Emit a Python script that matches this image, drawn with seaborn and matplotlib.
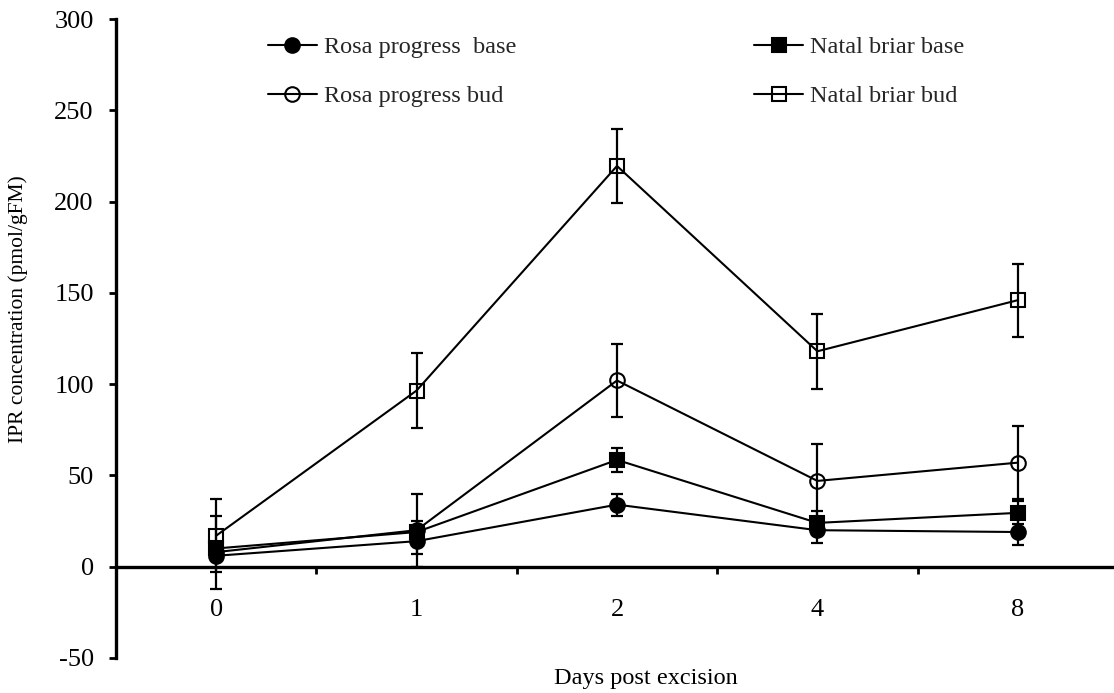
import numpy as np
import pandas as pd
import matplotlib
matplotlib.use("Agg")
import matplotlib.pyplot as plt
from matplotlib.ticker import FixedLocator, MultipleLocator
import seaborn as sns

# Days post excision (categorical)
days = ["0", "1", "2", "4", "8"]

# IPR concentration (pmol/gFM), mean and error per series
rosa_base = [6, 14, 34, 20, 19]
rosa_base_err = [2, 7, 6, 7, 7]
rosa_bud = [8, 20, 102, 47, 57]
rosa_bud_err = [20, 20, 20, 20, 20]
natal_base = [10, 19, 58.5, 24, 29.5]
natal_base_err = [2, 6, 6.5, 6.5, 6.3]
natal_bud = [17, 96.5, 219.5, 118, 146]
natal_bud_err = [20, 20.5, 20.5, 20.5, 20]

series_names = ["Rosa progress  base", "Rosa progress bud",
                "Natal briar base", "Natal briar bud"]
series_vals = [rosa_base, rosa_bud, natal_base, natal_bud]
series_errs = [rosa_base_err, rosa_bud_err, natal_base_err, natal_bud_err]
markers = ["o", "o", "s", "s"]
filled = [True, False, True, False]

sns.set_theme(style="white")
plt.rcParams["font.family"] = ["Liberation Serif", "DejaVu Serif"]
plt.rcParams["axes.unicode_minus"] = False

fig = plt.figure(figsize=(11.14, 6.93), dpi=100)
ax = fig.add_axes([116 / 1114, 35 / 693, 1 - 116 / 1114, (658 - 19) / 693])

pos = np.arange(len(days))
frames = []
for name, vals in zip(series_names, series_vals):
    frames.append(pd.DataFrame({"pos": pos, "value": vals, "series": name}))
df = pd.concat(frames, ignore_index=True)

for name, errs, mk, fl in zip(series_names, series_errs, markers, filled):
    sub = df[df["series"] == name]
    ax.errorbar(sub["pos"], sub["value"], yerr=errs, fmt="none",
                ecolor="black", elinewidth=1.6, capsize=4.5, capthick=1.6,
                zorder=2)
    sns.lineplot(data=sub, x="pos", y="value", ax=ax, color="black",
                 marker=mk, markersize=10.5 if mk == "o" else 10,
                 markerfacecolor="black" if fl else "none",
                 markeredgecolor="black", markeredgewidth=1.5,
                 linewidth=1.5, label=name, zorder=3)

ax.set_xlim(-0.5, 4.48)
ax.set_ylim(-50, 300)

# spines: left axis plus a horizontal axis running through zero
for side in ["top", "right"]:
    ax.spines[side].set_visible(False)
ax.spines["bottom"].set_position(("data", 0))
ax.spines["left"].set_linewidth(2.4)
ax.spines["bottom"].set_linewidth(2.4)
ax.spines["left"].set_color("black")
ax.spines["bottom"].set_color("black")

ax.yaxis.set_major_locator(MultipleLocator(50))
ax.tick_params(axis="y", which="major", direction="out", length=5,
               width=2, colors="black", labelsize=19, pad=11, left=True)

ax.xaxis.set_major_locator(FixedLocator(pos))
ax.set_xticks(pos)
ax.set_xticklabels(days)
ax.xaxis.set_minor_locator(FixedLocator(np.arange(-0.5, 4.6, 1.0)))
ax.tick_params(axis="x", which="major", length=0, labelsize=19, pad=23,
               colors="black", bottom=True)
ax.tick_params(axis="x", which="minor", direction="out", length=5,
               width=2, color="black", bottom=True)

ax.set_xlabel("Days post excision", fontsize=17.5, color="black")
ax.set_ylabel("IPR concentration (pmol/gFM)", fontsize=15.5, color="black")
ax.xaxis.set_label_coords(0.531, -0.0156)
ax.yaxis.set_label_coords(-0.088, 0.546)

ax.legend(loc="upper left", bbox_to_anchor=(268 / 1114, 1 - 36 / 693),
          bbox_transform=fig.transFigure, ncol=2, frameon=False,
          fontsize=17.5, handlelength=2.0, handletextpad=0.3,
          columnspacing=9.8, labelspacing=1.12, borderpad=0,
          borderaxespad=0)

fig.savefig("out.png", dpi=100)
